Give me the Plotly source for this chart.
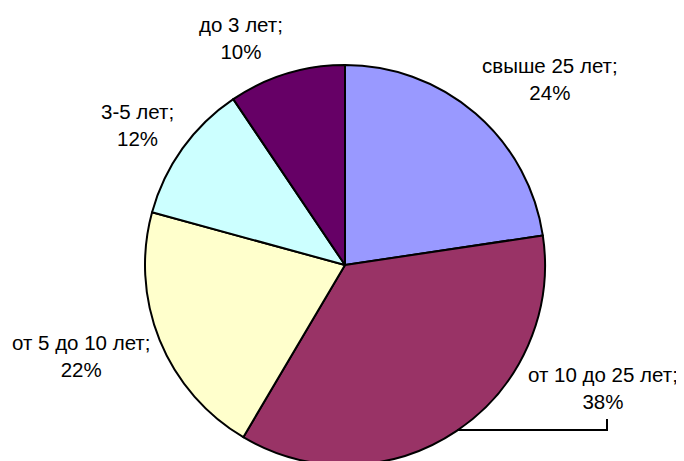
import plotly.graph_objects as go

categories = ["свыше 25 лет", "от 10 до 25 лет", "от 5 до 10 лет", "3-5 лет", "до 3 лет"]
values = [24, 38, 22, 12, 10]
colors = ["#9999FF", "#993366", "#FFFFCC", "#CCFFFF", "#660066"]

# label centres in figure pixels (x, y from top)
label_pos = [(542, 71), (595, 380), (73, 348), (129, 117), (233, 30)]

W, H = 684, 461
cx, top, bottom = 337, 57, 457
r = (bottom - top) / 2

fig = go.Figure(go.Pie(
    labels=categories,
    values=values,
    sort=False,
    direction="clockwise",
    rotation=0,
    marker=dict(colors=colors, line=dict(color="black", width=2)),
    textinfo="none",
    hoverinfo="label+value",
    showlegend=False,
    domain=dict(x=[(cx - r - 5) / W, (cx + r + 5) / W], y=[1 - bottom / H, 1 - top / H]),
))

for cat, val, (px, py) in zip(categories, values, label_pos):
    fig.add_annotation(
        x=px / W, y=1 - py / H, xref="paper", yref="paper",
        text=f"{cat};<br>{val}%", showarrow=False,
        xanchor="center", yanchor="middle", align="center",
        font=dict(family="Liberation Sans, Arial, sans-serif", size=20.5, color="black"),
    )

# leader line for the 38% label
fig.add_shape(
    type="path", xref="paper", yref="paper",
    path=f"M {449 / W} {1 - 422 / H} L {599 / W} {1 - 422 / H} L {599 / W} {1 - 411 / H}",
    line=dict(color="black", width=2),
)

fig.update_layout(
    width=W, height=H,
    margin=dict(l=0, r=0, t=0, b=0),
    paper_bgcolor="white", plot_bgcolor="white",
)

fig.write_html("out.html")
